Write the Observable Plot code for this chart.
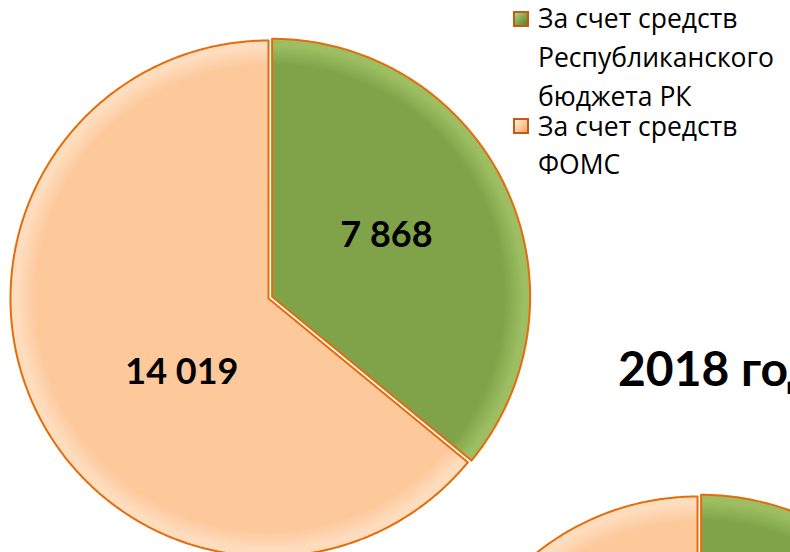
<!DOCTYPE html>
<html>
<head>
<meta charset="utf-8">
<script src="https://cdn.jsdelivr.net/npm/d3@7"></script>
<script src="https://cdn.jsdelivr.net/npm/@observablehq/plot@0.6"></script>
<style>
  html, body { margin: 0; padding: 0; background: #fff; overflow: hidden; }
  #wrap { position: relative; width: 790px; height: 552px; overflow: hidden; font-family: Lato, "Open Sans", sans-serif; }
  #chart { position: absolute; left: 0; top: 0; }
  .legend-line { position: absolute; left: 538px; font-family: "Open Sans", Lato, sans-serif; font-size: 26.5px; line-height: 30px; height: 30px; color: #000; white-space: nowrap; }
  .swatch { position: absolute; left: 513px; width: 12px; height: 12px; border: 2px solid #C65A10; }
  #year { position: absolute; left: 618px; top: 344px; font-size: 48px; line-height: 48px; font-weight: bold; white-space: nowrap; color: #000; }
</style>
</head>
<body>
<div id="wrap">
  <div id="chart"></div>
  <div id="legend"></div>
  <div id="year"></div>
</div>
<script>
// ---- data ----
const categories = ["За счет средств Республиканского бюджета РК", "За счет средств ФОМС"];
const legendLines = [["За счет средств", "Республиканского", "бюджета РК"], ["За счет средств", "ФОМС"]];
const values2017 = [7868, 14019];
const values2018 = [8350, 14900]; // slices of the second pie (labels outside the visible area)
const yearTitle = "2018 год";

// ---- layout / style ----
const W = 790, H = 552;
const R = 258;                 // pie radius in px
const C1 = [268, 298];         // first pie centre (px)
const C2 = [697, 754];         // second pie centre (px, mostly below the frame)
const explode = 4 / R;
const sliceStyle = [
  {id: "gGreen", base: "#80A34A", rim: "#9DBE62"},
  {id: "gOrange", base: "#FDC89A", rim: "#FEDDBF"}
];

// unit coordinates: pie radius = 1, y up
const xDomain = [-C1[0] / R, (W - C1[0]) / R];
const yDomain = [-(H - C1[1]) / R, C1[1] / R];
const toUnit = ([px, py]) => [(px - C1[0]) / R, (C1[1] - py) / R];

const pie = d3.pie().sort(null).startAngle(0).endAngle(2 * Math.PI);

function slicePolygons(values, centerPx, pieKey) {
  const [ux, uy] = toUnit(centerPx);
  return pie(values).map((a, i) => {
    const mid = (a.startAngle + a.endAngle) / 2;
    const ox = i === 0 ? explode * Math.sin(mid) : 0;
    const oy = i === 0 ? explode * Math.cos(mid) : 0;
    const pts = [{x: ux + ox, y: uy + oy}];
    const n = Math.max(2, Math.ceil((a.endAngle - a.startAngle) / (Math.PI / 360)));
    for (let k = 0; k <= n; k++) {
      const t = a.startAngle + (a.endAngle - a.startAngle) * k / n;
      pts.push({x: ux + ox + Math.sin(t), y: uy + oy + Math.cos(t)});
    }
    return {i, key: pieKey + "-" + i, pts, mid, center: [ux + ox, uy + oy]};
  });
}

const pie1 = slicePolygons(values2017, C1, "p1");
const pie2 = slicePolygons(values2018, C2, "p2");

const fmt = d3.formatLocale({decimal: ",", thousands: " ", grouping: [3], currency: ["", ""]}).format(",d");

// label positions along slice bisector
const labelR = [0.52, 0.44];
const labels = pie1.map((s, i) => ({
  x: s.center[0] + labelR[i] * Math.sin(s.mid),
  y: s.center[1] + labelR[i] * Math.cos(s.mid),
  text: fmt(values2017[i]),
  i
}));

const marks = [];
for (const s of [...pie2, ...pie1].sort((a, b) => b.i - a.i)) {
  marks.push(Plot.line(s.pts, {
    x: "x", y: "y", curve: "linear-closed",
    fill: `url(#${sliceStyle[s.i].id}-${s.key.slice(0, 2)})`,
    stroke: "#E46C0A", strokeWidth: 2, strokeLinejoin: "round", clip: true
  }));
}
marks.push(Plot.text(labels.filter(d => d.i === 0), {
  x: "x", y: "y", text: "text", fontSize: 36, fontWeight: "bold", fill: "#000", dx: -7, dy: -4
}));
marks.push(Plot.text(labels.filter(d => d.i === 1), {
  x: "x", y: "y", text: "text", fontSize: 36, fontWeight: "bold", fill: "#000", dx: 16, dy: 25
}));

const chart = Plot.plot({
  width: W, height: H, margin: 0,
  style: {fontFamily: "Lato, 'Open Sans', sans-serif", background: "transparent"},
  x: {domain: xDomain, axis: null},
  y: {domain: yDomain, axis: null},
  marks
});

// radial bevel gradients centred on each pie (computed through the scales)
const sx = chart.scale("x"), sy = chart.scale("y");
const ns = "http://www.w3.org/2000/svg";
const defs = document.createElementNS(ns, "defs");
for (const [pieKey, pieSlices] of [["p1", pie1], ["p2", pie2]]) {
  for (const s of pieSlices) {
    const st = sliceStyle[s.i];
    const cx = sx.apply(s.center[0]), cy = sy.apply(s.center[1]);
    const r = Math.abs(sx.apply(1) - sx.apply(0));
    const g = document.createElementNS(ns, "radialGradient");
    g.setAttribute("id", `${st.id}-${pieKey}`);
    g.setAttribute("gradientUnits", "userSpaceOnUse");
    g.setAttribute("cx", cx); g.setAttribute("cy", cy); g.setAttribute("r", r);
    [[0, st.base], [0.9, st.base], [0.975, st.rim], [1, st.rim]].forEach(([o, c]) => {
      const stop = document.createElementNS(ns, "stop");
      stop.setAttribute("offset", o); stop.setAttribute("stop-color", c);
      g.appendChild(stop);
    });
    defs.appendChild(g);
  }
}
chart.insertBefore(defs, chart.firstChild);
document.getElementById("chart").appendChild(chart);

// legend: one line per div, baselines follow the reference
const legend = document.getElementById("legend");
const swatchFill = [
  "linear-gradient(135deg, #B8D08A 0%, #80A34A 55%, #5F7F30 100%)",
  "linear-gradient(135deg, #FFF2E4 0%, #FDC89A 55%, #F0A060 100%)"
];
const lineTops = [[3, 42, 81], [111, 149]];
const swatchTops = [11, 118];
legendLines.forEach((lines, i) => {
  const sw = document.createElement("div");
  sw.className = "swatch";
  sw.style.top = swatchTops[i] + "px";
  sw.style.background = swatchFill[i];
  sw.title = categories[i];
  legend.appendChild(sw);
  lines.forEach((line, j) => {
    const div = document.createElement("div");
    div.className = "legend-line";
    div.style.top = lineTops[i][j] + "px";
    div.textContent = line;
    legend.appendChild(div);
  });
});
document.getElementById("year").textContent = yearTitle;
</script>
</body>
</html>
